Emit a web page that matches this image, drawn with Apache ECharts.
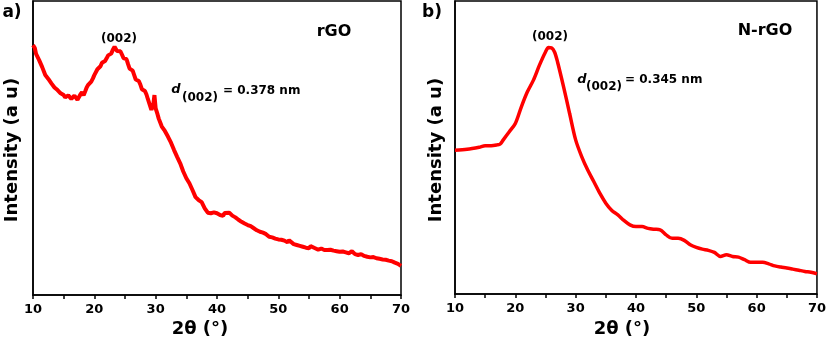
<!DOCTYPE html>
<html>
<head>
<meta charset="utf-8">
<script src="https://cdn.jsdelivr.net/npm/echarts@6/dist/echarts.min.js"></script>
<style>html,body{margin:0;padding:0;background:#fff}#c{width:829px;height:343px}</style>
</head>
<body>
<div id="c"></div>
<script>
// Panel a) rGO
var rgoX = [10,10.3,10.5,11,11.5,12,12.5,13,13.5,14,14.5,15,15.25,15.5,15.75,16,16.25,16.5,16.75,17,17.25,17.5,17.75,18,18.25,18.5,18.75,19,19.25,19.5,19.75,20,20.25,20.5,20.75,21,21.25,21.5,21.75,22,22.25,22.5,22.75,23,23.3,23.7,24,24.25,24.5,24.75,25,25.25,25.5,25.75,26,26.25,26.5,26.75,27,27.25,27.5,27.75,28,28.25,28.5,28.75,29,29.3,29.6,29.8,30,30.3,30.5,31,31.5,32,32.5,33,33.5,34,34.5,35,35.5,36,36.5,37,37.5,38,38.5,39,39.5,40,40.5,41,41.25,41.5,42,42.25,42.5,43,43.5,44,44.5,45,45.5,46,46.5,47,47.5,48,48.5,49,49.5,50,50.5,51,51.5,51.75,52,52.5,53,53.5,54,54.5,55,55.25,55.5,56,56.5,57,57.5,58,58.5,59,59.5,60,60.5,61,61.5,61.75,62,62.25,62.5,63,63.5,64,64.5,65,65.5,66,66.5,67,67.5,68,68.5,69,69.5,70];
var rgoY = [85.0,84.0,82.0,79.9,77.5,74.8,73.5,72.0,70.6,69.7,68.6,68.0,67.2,67.4,67.9,67.6,66.7,66.9,67.8,67.3,66.4,66.8,68.3,69.0,67.9,69.2,70.6,71.5,70.9,72.6,73.6,74.8,75.3,76.8,76.3,77.8,79.0,79.5,79.6,80.5,81.5,82.0,82.1,83.3,84.4,83.0,82.6,82.9,81.8,80.6,80.5,80.2,78.5,77.0,76.5,76.3,74.8,73.3,73.1,72.8,71.6,70.0,69.7,69.4,68.2,66.5,66.0,63.0,64.5,68.0,63.5,61.5,60.0,57.3,55.8,53.9,51.8,49.3,47.0,44.8,42.0,39.7,38.0,35.7,33.3,32.3,31.6,29.5,28.0,27.8,28.1,27.8,27.2,26.9,27.9,27.8,28.0,27.4,27.0,26.4,25.6,24.9,24.3,23.8,23.4,22.7,22.0,21.5,21.2,20.7,19.8,19.6,19.2,18.9,18.8,18.5,17.9,18.6,18.3,17.3,17.0,16.7,16.4,16.1,15.9,16.6,16.3,15.9,15.4,15.8,15.3,15.3,15.4,15.1,14.9,14.7,14.8,14.5,14.2,14.0,14.9,14.5,13.9,13.6,13.9,13.3,13.0,12.8,12.9,12.5,12.3,12.1,12.0,11.7,11.5,11.0,10.6,9.9];

// Panel b) N-rGO
var nrgoX = [10,12,14,15,16,17,17.5,18,19,20,21,22,23,24,25,25.5,26,26.5,27,28,29,30,31,32,33,34,35,36,37,38,39,40,41,42,43,44,45,46,47,48,49,50,51,52,53,54,55,56,57,58,59,60,61,62,63,64,65,66,67,68,69,70];
var nrgoY = [49.1,49.4,50.1,50.6,50.6,50.9,51.2,52.6,55.4,58.2,63.9,69.0,73.0,78.1,82.6,84.1,84.0,82.6,79.2,70.7,61.6,52.6,46.9,42.3,38.4,34.4,31.0,28.5,27.0,25.1,23.6,23.0,23.0,22.4,22.1,21.9,20.2,19.0,19.0,18.3,16.8,15.9,15.3,14.9,14.2,12.8,13.4,12.8,12.6,11.7,10.8,10.8,10.8,10.3,9.6,9.2,8.9,8.5,8.1,7.7,7.4,6.9];

var xTicks = [10,20,30,40,50,60,70];

function pairs(xs, ys){ return xs.map(function(x,i){ return [x, ys[i]]; }); }

var FONT = 'DejaVu Sans';
function xAxisDef(gi){
  return {
    gridIndex: gi, type: 'value', min: 10, max: 70, interval: 10,
    axisLine: {show: true, onZero: false, lineStyle: {color: '#000', width: 1.5}},
    axisTick: {show: true, inside: false, length: 4, lineStyle: {color: '#000', width: 1.5}},
    minorTick: {show: true, splitNumber: 2, length: 4, lineStyle: {color: '#000', width: 1.5}},
    splitLine: {show: false},
    axisLabel: {color: '#000', fontFamily: FONT, fontWeight: 'bold', fontSize: 13, margin: 8,
      formatter: function(v){ return xTicks.indexOf(v) >= 0 ? String(v) : ''; }}
  };
}
function yAxisDef(gi){
  return {
    gridIndex: gi, type: 'value', min: 0, max: 100,
    axisLine: {show: true, lineStyle: {color: '#000', width: 1.5}},
    axisTick: {show: false}, axisLabel: {show: false}, splitLine: {show: false}
  };
}
function txt(x, y, s, size, extra){
  var st = {text: s, fill: '#000', font: 'bold ' + size + 'px "' + FONT + '"', textAlign: 'center', textVerticalAlign: 'middle'};
  for (var k in extra) st[k] = extra[k];
  return {type: 'text', x: x, y: y, style: st, z: 100};
}

var chart = echarts.init(document.getElementById('c'), null, {renderer: 'canvas'});
chart.setOption({
  animation: false,
  backgroundColor: '#fff',
  grid: [
    {left: 33, right: 428, top: 1, bottom: 48, show: true, borderColor: '#000', borderWidth: 1.5, backgroundColor: 'transparent'},
    {left: 455, right: 11, top: 1, bottom: 49, show: true, borderColor: '#000', borderWidth: 1.5, backgroundColor: 'transparent'}
  ],
  xAxis: [xAxisDef(0), xAxisDef(1)],
  yAxis: [yAxisDef(0), yAxisDef(1)],
  series: [
    {type: 'line', xAxisIndex: 0, yAxisIndex: 0, data: pairs(rgoX, rgoY), showSymbol: false, smooth: false,
      lineStyle: {color: '#ff0000', width: 4}},
    {type: 'line', xAxisIndex: 1, yAxisIndex: 1, data: pairs(nrgoX, nrgoY), showSymbol: false, smooth: 0.3,
      lineStyle: {color: '#ff0000', width: 3.5}}
  ],
  graphic: [
    txt(12, 13, 'a)', 17),
    txt(432, 13, 'b)', 17),
    txt(334, 32, 'rGO', 16),
    txt(765, 31, 'N-rGO', 16),
    txt(119, 39, '(002)', 12),
    txt(550, 37, '(002)', 12),
    txt(176, 90, 'd', 13, {font: 'italic bold 13px "' + FONT + '"'}),
    txt(200, 98, '(002)', 12),
    txt(223, 91, '= 0.378 nm', 12, {textAlign: 'left'}),
    txt(582, 80, 'd', 13, {font: 'italic bold 13px "' + FONT + '"'}),
    txt(604, 87, '(002)', 12),
    txt(625, 80, '= 0.345 nm', 12, {textAlign: 'left'}),
    txt(200, 329, '2θ (°)', 18),
    txt(622, 329, '2θ (°)', 18),
    {type: 'text', x: 12, y: 150, rotation: Math.PI/2, z: 100,
      style: {text: 'Intensity (a u)', fill: '#000', font: 'bold 18px "' + FONT + '"', textAlign: 'center', textVerticalAlign: 'middle'}},
    {type: 'text', x: 436, y: 150, rotation: Math.PI/2, z: 100,
      style: {text: 'Intensity (a u)', fill: '#000', font: 'bold 18px "' + FONT + '"', textAlign: 'center', textVerticalAlign: 'middle'}}
  ]
});
</script>
</body>
</html>
